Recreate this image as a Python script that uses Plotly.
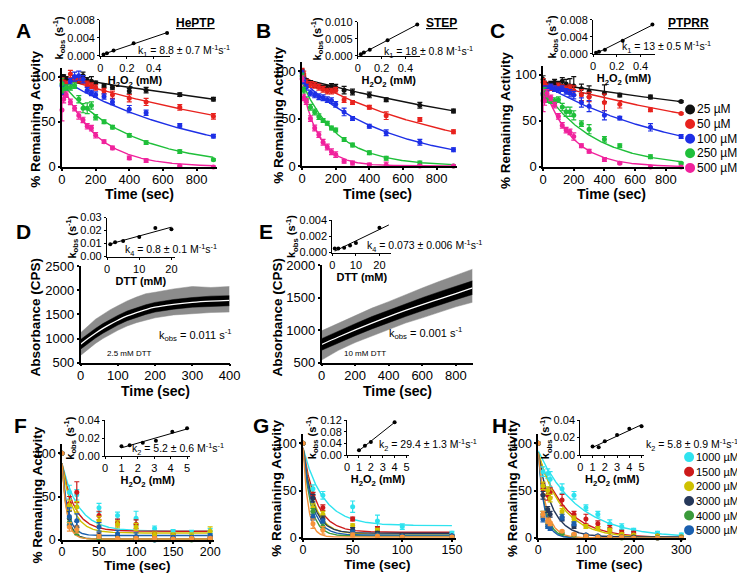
import numpy as np
import plotly.graph_objects as go

W, H = 745, 573

# ---------------- DATA ----------------
ROW1_TIME = [0, 10, 25, 50, 75, 100, 125, 150, 175, 200, 250, 300, 400, 500, 700, 900]
ROW1_LABELS = ["25 µM", "50 µM", "100 µM", "250 µM", "500 µM"]
ROW1_COLORS = ["#111111", "#e8221e", "#1d2fe6", "#1fbf3a", "#f0229c"]

A_VALUES = [
    [100, 100, 98, 97, 98, 96, 101, 96, 95, 93, 90, 88, 84, 85, 80, 75],
    [96, 93, 92, 103, 97, 97, 95, 92, 90, 88, 84, 80, 76, 72, 66, 56],
    [90, 82, 88, 95, 100, 101, 97, 85, 82, 80, 78, 72, 64, 60, 46, 34],
    [92, 85, 88, 88, 90, 75, 65, 65, 68, 55, 50, 44, 35, 27, 17, 8],
    [63, 75, 80, 72, 65, 57, 52, 45, 43, 35, 28, 21, 10, 7, 1, 0],
]
A_ERR = [
    [2, 2, 2, 2, 3, 3, 4, 3, 5, 2, 2, 2, 3, 3, 2, 2],
    [3, 3, 3, 4, 3, 3, 3, 3, 3, 3, 3, 4, 4, 4, 3, 3],
    [4, 3, 3, 3, 5, 5, 4, 3, 3, 3, 3, 3, 4, 3, 2, 2],
    [6, 3, 3, 3, 3, 4, 5, 6, 4, 3, 2, 2, 2, 2, 2, 1],
    [12, 4, 3, 3, 3, 4, 3, 3, 3, 3, 2, 2, 2, 2, 1, 1],
]
A_FIT_AMP = [100, 98, 97, 92, 92]
A_FIT_K = [0.00032, 0.0006, 0.00117, 0.0024, 0.0048]

B_VALUES = [
    [100, 93, 90, 88, 85, 84, 83, 82, 84, 83, 80, 78, 75, 70, 64, 58],
    [100, 97, 88, 86, 85, 83, 81, 79, 79, 80, 70, 67, 62, 53, 49, 36],
    [98, 90, 83, 77, 75, 73, 72, 70, 69, 65, 57, 50, 42, 35, 25, 17],
    [95, 80, 70, 62, 57, 52, 48, 45, 40, 38, 28, 22, 14, 8, 3, 0],
    [92, 72, 68, 50, 40, 33, 25, 20, 15, 12, 5, 3, 1, 1, 0, 0],
]
B_ERR = [
    [2, 2, 2, 2, 2, 2, 2, 3, 3, 3, 4, 3, 3, 2, 3, 2],
    [3, 3, 3, 3, 3, 3, 3, 3, 3, 3, 3, 2, 2, 4, 2, 2],
    [3, 3, 3, 3, 3, 3, 3, 3, 3, 3, 4, 2, 2, 3, 3, 2],
    [3, 3, 3, 3, 3, 3, 2, 2, 2, 2, 2, 2, 2, 2, 2, 1],
    [3, 3, 3, 3, 3, 3, 3, 3, 3, 3, 2, 2, 2, 3, 1, 1],
]
B_FIT_AMP = [92, 95, 90, 88, 85]
B_FIT_K = [0.00051, 0.00108, 0.00185, 0.0046, 0.0098]

C_VALUES = [
    [95, 90, 88, 90, 92, 90, 93, 90, 88, 88, 85, 82, 80, 78, 76, 71],
    [92, 90, 87, 86, 85, 88, 86, 85, 86, 83, 78, 76, 70, 68, 62, 58],
    [80, 75, 85, 87, 85, 84, 85, 82, 80, 78, 70, 66, 56, 53, 43, 33],
    [78, 82, 73, 72, 72, 73, 65, 60, 60, 56, 47, 41, 30, 23, 11, 4],
    [72, 72, 80, 75, 67, 55, 45, 40, 38, 33, 23, 17, 8, 4, 0, 0],
]
C_ERR = [
    [4, 3, 3, 3, 3, 3, 4, 5, 8, 10, 5, 6, 9, 2, 2, 1],
    [4, 3, 3, 3, 3, 3, 3, 3, 3, 5, 6, 5, 9, 4, 2, 1],
    [8, 5, 3, 3, 3, 3, 3, 3, 4, 4, 5, 6, 5, 2, 4, 2],
    [8, 4, 3, 3, 3, 3, 4, 5, 5, 5, 3, 5, 3, 2, 2, 1],
    [12, 5, 4, 3, 3, 3, 3, 3, 3, 4, 2, 2, 2, 1, 1, 1],
]
C_FIT_AMP = [92, 92, 90, 85, 90]
C_FIT_K = [0.00029, 0.00051, 0.0011, 0.003, 0.0055]

INSET1_X = [0.025, 0.05, 0.1, 0.25, 0.5]
A_INSET_Y = [0.0003, 0.0006, 0.0012, 0.0028, 0.0051]
B_INSET_Y = [0.0005, 0.001, 0.0018, 0.0046, 0.0092]
C_INSET_Y = [0.0003, 0.0005, 0.001, 0.0031, 0.0069]

# Panel D (2.5 mM DTT trace, read as envelope bands)
D_TIME = [0, 20, 40, 60, 80, 100, 125, 150, 175, 200, 250, 300, 350, 400]
D_FIT = [880, 1000, 1110, 1210, 1300, 1380, 1470, 1540, 1600, 1650, 1710, 1750, 1775, 1790]
D_OUTER_LO = [650, 780, 900, 1000, 1090, 1170, 1260, 1330, 1380, 1430, 1490, 1520, 1540, 1550]
D_OUTER_HI = [1120, 1260, 1400, 1500, 1600, 1680, 1780, 1860, 1930, 1960, 2030, 2080, 2060, 2080]
D_INNER_LO = [780, 900, 1010, 1110, 1200, 1280, 1370, 1440, 1500, 1550, 1610, 1650, 1670, 1680]
D_INNER_HI = [980, 1100, 1210, 1310, 1400, 1480, 1570, 1640, 1700, 1750, 1810, 1850, 1880, 1890]
D_INSET_X = [1, 2.5, 5, 10, 15, 20]
D_INSET_Y = [0.0095, 0.011, 0.012, 0.015, 0.022, 0.021]

# Panel E (10 mM DTT trace)
E_TIME = [0, 100, 200, 300, 400, 500, 600, 700, 800, 900]
E_FIT = [780, 895, 1005, 1110, 1210, 1305, 1395, 1480, 1565, 1650]
E_OUTER_LO = [540, 690, 810, 910, 1010, 1110, 1190, 1280, 1360, 1430]
E_OUTER_HI = [990, 1110, 1220, 1340, 1440, 1550, 1650, 1750, 1840, 1940]
E_INNER_LO = [690, 805, 915, 1020, 1120, 1210, 1300, 1390, 1470, 1550]
E_INNER_HI = [870, 990, 1100, 1210, 1310, 1410, 1500, 1590, 1670, 1760]
E_INSET_X = [1, 2.5, 5, 7.5, 10, 20]
E_INSET_Y = [0.0005, 0.0005, 0.0006, 0.0009, 0.0012, 0.0031]

ROW3_LABELS = ["1000 µM", "1500 µM", "2000 µM", "3000 µM", "4000 µM", "5000 µM", None]
ROW3_COLORS = ["#2fe3ef", "#cc1a1a", "#cfc100", "#26385a", "#3b9a3b", "#1a5fae", "#f5923a"]

F_TIME = [0, 10, 20, 50, 75, 100, 125, 150, 175, 200]
F_VALUES = [
    [100, 55, 52, 37, 28, 25, 13, 9, 8, 10],
    [100, 42, 55, 28, 20, 18, 7, 5, 3, 3],
    [100, 40, 38, 22, 18, 15, 6, 5, 5, 10],
    [100, 25, 15, 5, 3, 2, 1, 1, 1, 0],
    [100, 20, 10, 3, 2, 1, 0, 0, 0, 0],
    [100, 27, 22, 15, 7, 4, 0, 3, 3, 5],
    [100, 15, 12, 4, 2, 2, 2, 1, 2, 2],
]
F_ERR = [
    [0, 8, 6, 5, 4, 8, 3, 3, 3, 3],
    [0, 8, 12, 5, 4, 5, 3, 2, 2, 2],
    [0, 6, 6, 5, 4, 4, 3, 3, 3, 5],
    [0, 8, 6, 3, 2, 2, 1, 1, 1, 1],
    [0, 5, 4, 2, 1, 1, 1, 1, 1, 1],
    [0, 10, 8, 5, 4, 4, 2, 2, 2, 2],
    [0, 5, 4, 2, 1, 1, 1, 1, 1, 1],
]
F_FIT_AMP = [88, 88, 88, 88, 88, 88, 88]
F_FIT_PLATEAU = [10, 10, 8, 1, 1, 5, 1]
F_FIT_K = [0.045, 0.06, 0.07, 0.14, 0.15, 0.13, 0.16]
F_INSET_X = [1, 1.5, 2.3, 3.1, 4.1, 5]
F_INSET_Y = [0.011, 0.012, 0.015, 0.017, 0.027, 0.031]

G_TIME = [0, 10, 20, 50, 75, 100, 150]
G_VALUES = [
    [100, 52, 45, 33, 18, 12, 5],
    [100, 45, 32, 20, 10, 3, 2],
    [100, 32, 25, 13, 8, 2, 1],
    [100, 42, 20, 9, 5, 3, 2],
    [100, 28, 12, 5, 3, 2, 1],
    [100, 22, 18, 6, 3, 2, 2],
    [100, 15, 8, 3, 2, 1, 1],
]
G_ERR = [
    [0, 4, 4, 6, 6, 3, 2],
    [0, 3, 3, 2, 2, 1, 1],
    [0, 4, 3, 2, 2, 1, 1],
    [0, 4, 3, 2, 2, 1, 1],
    [0, 3, 3, 2, 1, 1, 1],
    [0, 3, 2, 2, 1, 1, 1],
    [0, 5, 4, 2, 1, 1, 1],
]
G_FIT_AMP = [95, 95, 95, 95, 95, 95, 95]
G_FIT_PLATEAU = [13, 6, 4, 5, 2, 3, 1]
G_FIT_K = [0.05, 0.075, 0.09, 0.1, 0.13, 0.11, 0.2]
G_INSET_X = [1, 1.5, 2, 4]
G_INSET_Y = [0.017, 0.032, 0.045, 0.113]

H_TIME = [0, 10, 20, 25, 50, 75, 100, 125, 150, 175, 200, 250, 300]
H_VALUES = [
    [100, 70, 68, 62, 52, 45, 32, 25, 15, 12, 8, 5, 3],
    [100, 52, 45, 48, 40, 25, 20, 15, 10, 6, 5, 2, 1],
    [100, 55, 50, 42, 28, 20, 12, 10, 8, 4, 3, 2, 1],
    [100, 45, 30, 25, 20, 12, 3, 2, 1, 1, 1, 0, 0],
    [100, 25, 15, 12, 5, 3, 2, 1, 1, 0, 0, 0, 0],
    [100, 20, 12, 10, 22, 15, 3, 2, 1, 1, 0, 0, 0],
    [100, 25, 18, 15, 7, 4, 2, 1, 1, 1, 0, 0, 0],
]
H_ERR = [
    [0, 5, 5, 8, 5, 4, 3, 3, 4, 3, 2, 2, 2],
    [0, 6, 5, 5, 6, 3, 5, 3, 3, 2, 2, 1, 1],
    [0, 4, 4, 4, 3, 3, 2, 2, 2, 1, 1, 1, 1],
    [0, 4, 3, 3, 2, 2, 1, 1, 1, 1, 1, 1, 1],
    [0, 3, 3, 2, 1, 1, 1, 1, 1, 1, 1, 1, 1],
    [0, 3, 2, 2, 3, 2, 1, 1, 1, 1, 1, 1, 1],
    [0, 3, 3, 2, 1, 1, 1, 1, 1, 1, 1, 1, 1],
]
H_FIT_AMP = [92, 88, 90, 90, 90, 90, 90]
H_FIT_PLATEAU = [0, 0, 0, 1, 0, 0, 0]
H_FIT_K = [0.012, 0.018, 0.02, 0.035, 0.07, 0.08, 0.06]
H_INSET_X = [1, 1.5, 2, 3, 4, 5]
H_INSET_Y = [0.010, 0.009, 0.016, 0.023, 0.030, 0.033]

# ---------------- HELPERS ----------------
FONT = "Arial, Liberation Sans, sans-serif"


def X(px):
    return px / W


def Y(py):
    return 1 - py / H


fig = go.Figure()
layout = {}


def add_axes(n, xpx, ypx, xr, yr, xdtick=None, ydtick=None, xtitle="", ytitle="",
             tfs=13, ttfs=11, lw=1.5, xfmt=None, yfmt=None, xtickvals=None,
             xstand=1, ystand=1, ticklen=2, xshift=0):
    sfx = "" if n == 1 else str(n)
    common = dict(showline=True, linecolor="black", linewidth=lw, ticks="outside",
                  ticklen=ticklen, tickwidth=lw, tickcolor="black",
                  showgrid=False, zeroline=False,
                  tickfont=dict(family=FONT, size=tfs, color="black"))
    xa = dict(common, domain=[X(xpx[0]), X(xpx[1])], range=xr, anchor="y" + sfx,
              ticklabelstandoff=xshift,
              title=dict(text=xtitle, font=dict(family=FONT, size=ttfs, color="black", weight="bold"),
                         standoff=xstand))
    ya = dict(common, domain=[Y(ypx[1]), Y(ypx[0])], range=yr, anchor="x" + sfx,
              title=dict(text=ytitle, font=dict(family=FONT, size=ttfs, color="black", weight="bold"),
                         standoff=ystand))
    if xdtick is not None:
        xa["dtick"] = xdtick
        xa["tick0"] = 0
    if ydtick is not None:
        ya["dtick"] = ydtick
        ya["tick0"] = 0
    if xfmt:
        xa["tickformat"] = xfmt
    if yfmt:
        ya["tickformat"] = yfmt
    if xtickvals is not None:
        xa["tickmode"] = "array"
        xa["tickvals"] = xtickvals
        xa["ticktext"] = [str(v) for v in xtickvals]
    layout["xaxis" + sfx] = xa
    layout["yaxis" + sfx] = ya
    return "x" + sfx, "y" + sfx


def decay_panel(xa, ya, t, values, errs, colors, amps, ks, plateaus=None, tmax=900, msize=5):
    tt = np.linspace(0, tmax, 300)
    for i in range(len(values)):
        p = plateaus[i] if plateaus is not None else 0
        fit = p + (amps[i] - p) * np.exp(-ks[i] * tt)
        fig.add_trace(go.Scatter(x=tt, y=fit, mode="lines", xaxis=xa, yaxis=ya,
                                 line=dict(color=colors[i], width=1.4), hoverinfo="skip"))
    for i in range(len(values)):
        fig.add_trace(go.Scatter(x=t, y=values[i], mode="markers", xaxis=xa, yaxis=ya,
                                 marker=dict(color=colors[i], size=msize),
                                 error_y=dict(type="data", array=errs[i], color=colors[i],
                                              thickness=1.2, width=2.5),
                                 cliponaxis=False))


def inset_points(xa, ya, xs, ys, x_end=None):
    xs_a = np.array(xs)
    m, b = np.polyfit(xs_a, np.array(ys), 1)
    x1 = xs_a.max() if x_end is None else x_end
    lx = np.array([xs_a.min(), x1])
    fig.add_trace(go.Scatter(x=lx, y=m * lx + b, mode="lines", xaxis=xa, yaxis=ya,
                             line=dict(color="black", width=1), hoverinfo="skip"))
    fig.add_trace(go.Scatter(x=xs, y=ys, mode="markers", xaxis=xa, yaxis=ya,
                             marker=dict(color="black", size=4), cliponaxis=False))


def trace_panel(xa, ya, t, olo, ohi, ilo, ihi, fit):
    fig.add_trace(go.Scatter(x=t, y=olo, mode="lines", xaxis=xa, yaxis=ya,
                             line=dict(color="#8c8c8c", width=0.5), hoverinfo="skip"))
    fig.add_trace(go.Scatter(x=t, y=ohi, mode="lines", xaxis=xa, yaxis=ya, fill="tonexty",
                             fillcolor="#8c8c8c", line=dict(color="#8c8c8c", width=0.5), hoverinfo="skip"))
    fig.add_trace(go.Scatter(x=t, y=ilo, mode="lines", xaxis=xa, yaxis=ya,
                             line=dict(color="black", width=0.5), hoverinfo="skip"))
    fig.add_trace(go.Scatter(x=t, y=ihi, mode="lines", xaxis=xa, yaxis=ya, fill="tonexty",
                             fillcolor="black", line=dict(color="black", width=0.5), hoverinfo="skip"))
    fig.add_trace(go.Scatter(x=t, y=fit, mode="lines", xaxis=xa, yaxis=ya, line_shape="spline",
                             line=dict(color="white", width=1.3), hoverinfo="skip"))


KOBS = "k<sub>obs</sub> (s<sup>-1</sup>)"
H2O2 = "H<sub>2</sub>O<sub>2</sub> (mM)"
RA = "% Remaining Activity"
TS = "Time (sec)"
ABS = "Absorbance (CPS)"

# ---------------- ROW 1 ----------------
xa, ya = add_axes(1, (51, 209), (54, 156), [0, 920], [0, 110], 200, 50, xshift=-2)
decay_panel(xa, ya, ROW1_TIME, A_VALUES, A_ERR, ROW1_COLORS, A_FIT_AMP, A_FIT_K)
xa, ya = add_axes(2, (296, 454), (48, 155), [0, 920], [0, 110], 200, 50, xshift=-2)
decay_panel(xa, ya, ROW1_TIME, B_VALUES, B_ERR, ROW1_COLORS, B_FIT_AMP, B_FIT_K)
xa, ya = add_axes(3, (542, 686), (52, 156), [0, 920], [0, 110], 200, 50, xshift=-2)
decay_panel(xa, ya, ROW1_TIME, C_VALUES, C_ERR, ROW1_COLORS, C_FIT_AMP, C_FIT_K)

xa, ya = add_axes(4, (90, 161), (5, 42), [0, 0.52], [0, 0.008], None, 0.004, H2O2, KOBS,
                  tfs=11, lw=1.2, yfmt=".3f", xtickvals=[0, 0.2, 0.4])
inset_points(xa, ya, INSET1_X, A_INSET_Y)
xa, ya = add_axes(5, (353, 416), (7, 42), [0, 0.52], [0, 0.010], None, 0.005, H2O2, KOBS,
                  tfs=11, lw=1.2, yfmt=".3f", xtickvals=[0, 0.2, 0.4])
inset_points(xa, ya, INSET1_X, B_INSET_Y)
xa, ya = add_axes(6, (593, 656), (5, 40), [0, 0.52], [0, 0.008], None, 0.004, H2O2, KOBS,
                  tfs=11, lw=1.2, yfmt=".3f", xtickvals=[0, 0.2, 0.4])
inset_points(xa, ya, INSET1_X, C_INSET_Y)

# ---------------- ROW 2 ----------------
xa, ya = add_axes(7, (70, 222), (258, 357), [0, 400], [500, 2500], 100, 500, xshift=-2)
trace_panel(xa, ya, D_TIME, D_OUTER_LO, D_OUTER_HI, D_INNER_LO, D_INNER_HI, D_FIT)
xa, ya = add_axes(8, (316, 470), (257, 357), [0, 900], [500, 2000], 200, 500, xshift=-2)
trace_panel(xa, ya, E_TIME, E_OUTER_LO, E_OUTER_HI, E_INNER_LO, E_INNER_HI, E_FIT)

xa, ya = add_axes(9, (97, 166), (208, 248), [0, 21], [0, 0.03], 10, 0.01, "DTT (mM)", KOBS,
                  tfs=11, lw=1.2, yfmt=".2f")
inset_points(xa, ya, D_INSET_X, D_INSET_Y)
xa, ya = add_axes(10, (327, 387), (211, 244), [0, 25], [0, 0.004], 10, 0.002, "DTT (mM)", KOBS,
                  tfs=11, lw=1.2, yfmt=".3f")
inset_points(xa, ya, E_INSET_X, E_INSET_Y, x_end=24)

# ---------------- ROW 3 ----------------
xa, ya = add_axes(11, (51, 206), (441, 539), [0, 205], [0, 110], 50, 50, xshift=-3, tfs=12.5)
decay_panel(xa, ya, F_TIME, F_VALUES, F_ERR, ROW3_COLORS, F_FIT_AMP, F_FIT_K, F_FIT_PLATEAU, tmax=200)
xa, ya = add_axes(12, (297, 453), (430, 537), [0, 154], [0, 110], 50, 50, xshift=-3, tfs=12.5)
decay_panel(xa, ya, G_TIME, G_VALUES, G_ERR, ROW3_COLORS, G_FIT_AMP, G_FIT_K, G_FIT_PLATEAU, tmax=150)
xa, ya = add_axes(13, (537, 688), (430, 537), [0, 310], [0, 110], 100, 50, xshift=-3, tfs=12.5)
decay_panel(xa, ya, H_TIME, H_VALUES, H_ERR, ROW3_COLORS, H_FIT_AMP, H_FIT_K, H_FIT_PLATEAU, tmax=300)

xa, ya = add_axes(14, (95, 182), (416, 453), [0, 5.2], [0, 0.04], 1, 0.02, H2O2, KOBS,
                  tfs=11, lw=1.2, yfmt=".2f")
inset_points(xa, ya, F_INSET_X, F_INSET_Y)
xa, ya = add_axes(15, (342, 405), (416, 452), [0, 5.2], [0, 0.12], 1, 0.04, H2O2, KOBS,
                  tfs=11, lw=1.2, yfmt=".2f")
inset_points(xa, ya, G_INSET_X, G_INSET_Y)
xa, ya = add_axes(16, (580, 645), (416, 452), [0, 5.2], [0, 0.04], 1, 0.02, H2O2, KOBS,
                  tfs=11, lw=1.2, yfmt=".2f")
inset_points(xa, ya, H_INSET_X, H_INSET_Y)

# ---------------- TEXT ----------------
ann = []


def text(px, py, s, size=10.5, bold=False, xanchor="left", yanchor="middle", angle=0):
    ann.append(dict(x=X(px), y=Y(py), xref="paper", yref="paper", text=s, showarrow=False,
                    xanchor=xanchor, yanchor=yanchor, textangle=angle,
                    font=dict(family=FONT, size=size, color="black", weight="bold" if bold else "normal")))


for lab, px, py in [("A", 2, 16), ("B", 247, 16), ("C", 486, 16), ("D", 2, 222),
                    ("E", 250, 222), ("F", 0, 422), ("G", 244, 422), ("H", 488, 422)]:
    text(px, py, lab, size=21, bold=True)

# main axis titles
for s, px, py in [(TS, 130, 184), (TS, 373, 184), (TS, 612, 184), (TS, 146, 386), (TS, 393, 386)]:
    text(px, py, s, size=14, bold=True, xanchor="center")
for s, px, py in [(TS, 128, 565), (TS, 373, 564), (TS, 610, 564)]:
    text(px, py, s, size=13.5, bold=True, xanchor="center")
for s, px, py in [(RA, 24, 107), (RA, 272, 103), (RA, 503, 108), (ABS, 24, 310), (ABS, 271, 310),
                  (RA, 26, 493), (RA, 270, 486), (RA, 511, 486)]:
    text(px, py, s, size=13.5, bold=True, xanchor="center", angle=-90)

text(187, 8, "<u>HePTP</u>", size=12, bold=True, xanchor="center")
text(438, 8, "<u>STEP</u>", size=12, bold=True, xanchor="center")
text(690, 8, "<u>PTPRR</u>", size=12, bold=True, xanchor="center")
text(127, 37, "k<sub>1</sub> = 8.8 ± 0.7 M<sup>-1</sup>s<sup>-1</sup>")
text(378, 38, "k<sub>1</sub> = 18 ± 0.8 M<sup>-1</sup>s<sup>-1</sup>")
text(620, 33, "k<sub>1</sub> = 13 ± 0.5 M<sup>-1</sup>s<sup>-1</sup>")
text(113, 241, "k<sub>4</sub> = 0.8 ± 0.1 M<sup>-1</sup>s<sup>-1</sup>")
text(360, 237, "k<sub>4</sub> = 0.073 ± 0.006 M<sup>-1</sup>s<sup>-1</sup>")
text(148, 329, "k<sub>obs</sub> = 0.011 s<sup>-1</sup>", size=11)
text(95, 348, "2.5 mM DTT", size=8)
text(383, 327, "k<sub>obs</sub> = 0.001 s<sup>-1</sup>", size=11)
text(337, 348, "10 mM DTT", size=8)
text(120, 446, "k<sub>2</sub> = 5.2 ± 0.6 M<sup>-1</sup>s<sup>-1</sup>")
text(373, 442, "k<sub>2</sub> = 29.4 ± 1.3 M<sup>-1</sup>s<sup>-1</sup>")
text(645, 442, "k<sub>2</sub> = 5.8 ± 0.9 M<sup>-1</sup>s<sup>-1</sup>")

shapes = []


def legend_rows(labels, colors, x_px, y0, dy, size):
    row = 0
    for lab, col in zip(labels, colors):
        if lab is None:
            continue
        yy = y0 + row * dy
        shapes.append(dict(type="circle", xref="paper", yref="paper", xsizemode="pixel",
                           ysizemode="pixel", xanchor=X(x_px), yanchor=Y(yy),
                           x0=-5, x1=5, y0=-5, y1=5, fillcolor=col, line=dict(color=col, width=0)))
        text(x_px + 5.5, yy, lab, size=size)
        row += 1


legend_rows(ROW1_LABELS, ROW1_COLORS, 692, 97, 15, 12)
legend_rows(ROW3_LABELS, ROW3_COLORS, 691, 454, 15, 11)

fig.update_layout(width=W, height=H, margin=dict(l=0, r=0, t=0, b=0),
                  plot_bgcolor="rgba(0,0,0,0)", paper_bgcolor="white", showlegend=False,
                  font=dict(family=FONT, color="black"), annotations=ann, shapes=shapes, **layout)

fig.write_html("out.html")
